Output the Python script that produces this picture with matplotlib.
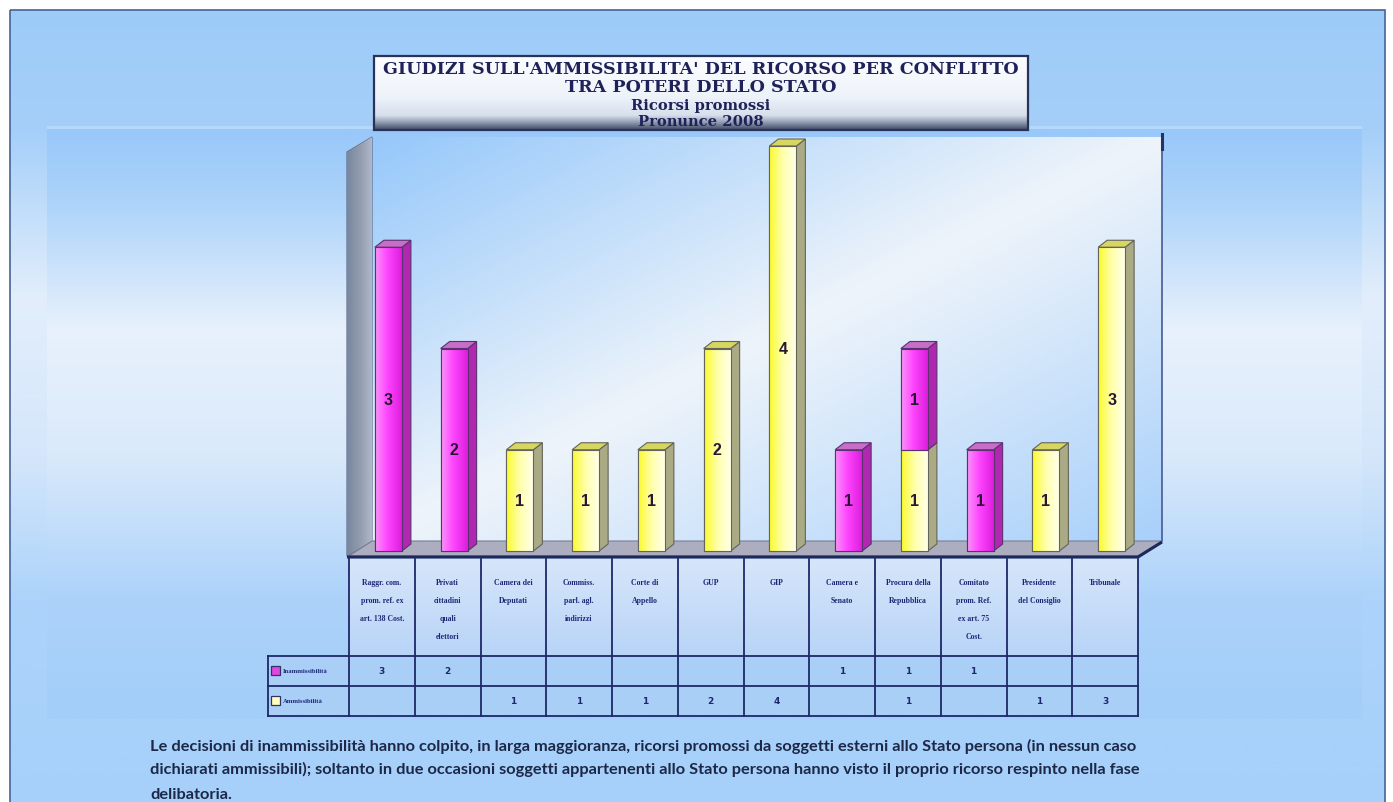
import numpy as np
import matplotlib
matplotlib.use("Agg")
import matplotlib.pyplot as plt
from matplotlib.patches import Rectangle, Polygon

# ---------------- data ----------------
categories = [
    "Raggr. com.\nprom. ref. ex\nart. 138 Cost.",
    "Privati\ncittadini\nquali\nelettori",
    "Camera dei\nDeputati",
    "Commiss.\nparl. agl.\nindirizzi",
    "Corte di\nAppello",
    "GUP",
    "GIP",
    "Camera e\nSenato",
    "Procura della\nRepubblica",
    "Comitato\nprom. Ref.\nex art. 75\nCost.",
    "Presidente\ndel Consiglio",
    "Tribunale",
]
inammissibilita = [3, 2, 0, 0, 0, 0, 0, 1, 1, 1, 0, 0]
ammissibilita = [0, 0, 1, 1, 1, 2, 4, 0, 1, 0, 1, 3]
series_names = ["Inammissibilità", "Ammissibilità"]

title_lines = [
    "GIUDIZI SULL'AMMISSIBILITA' DEL RICORSO PER CONFLITTO",
    "TRA POTERI DELLO STATO",
    "Ricorsi promossi",
    "Pronunce 2008",
]
caption_lines = [
    "Le decisioni di inammissibilità hanno colpito, in larga maggioranza, ricorsi promossi da soggetti esterni allo Stato persona (in nessun caso",
    "dichiarati ammissibili); soltanto in due occasioni soggetti appartenenti allo Stato persona hanno visto il proprio ricorso respinto nella fase",
    "delibatoria.",
]

# ---------------- figure ----------------
W, H = 1393, 803
fig = plt.figure(figsize=(W / 100, H / 100), dpi=100)
fig.patch.set_facecolor("white")

bg = fig.add_axes([0, 0, 1, 1])
bg.set_xlim(0, W)
bg.set_ylim(H, 0)
bg.axis("off")


def c(r, g, b):
    return (r / 255, g / 255, b / 255)


def ramp(stops, n=256):
    pos = np.array([s[0] for s in stops])
    cols = np.array([s[1] for s in stops], dtype=float) / 255.0
    t = np.linspace(0, 1, n)
    return np.stack([np.interp(t, pos, cols[:, k]) for k in range(3)], axis=-1)


def vgrad(ax, x0, x1, y0, y1, stops, z, clip=None):
    arr = ramp(stops)[:, None, :]
    im = ax.imshow(arr, extent=(x0, x1, y1, y0), origin="upper", aspect="auto",
                   interpolation="bilinear", zorder=z)
    if clip is not None:
        im.set_clip_path(clip)
    return im


# outer frame
vgrad(bg, 10, 1385, 11, 810, [
    (0.0, (157, 203, 248)), (0.15, (165, 207, 249)), (0.36, (226, 238, 251)),
    (0.55, (214, 231, 251)), (0.74, (172, 211, 250)), (1.0, (166, 208, 250))], z=0)
bg.add_patch(Rectangle((10, 11), 1375, 800, fill=False, ec=c(70, 100, 150), lw=1.2, zorder=1))

# chart area
bg.add_patch(Rectangle((47, 127), 1315, 3, fc=c(182, 216, 250), ec="none", zorder=1))
vgrad(bg, 47, 1362, 130, 720, [
    (0.0, (152, 200, 249)), (0.12, (172, 211, 250)), (0.34, (232, 241, 252)),
    (0.55, (218, 234, 251)), (0.8, (172, 210, 250)), (1.0, (162, 206, 249))], z=1)

# back wall with diagonal gradient
wx0, wx1, wy0, wy1 = 372, 1162, 138, 542
gx, gy = np.meshgrid(np.linspace(0, 1, 200), np.linspace(0, 1, 120))
u = (gx + gy) / 2
blue1 = np.array(c(150, 200, 250))
white = np.array(c(238, 244, 251))
blue2 = np.array(c(168, 208, 250))
w1 = np.clip(u / 0.5, 0, 1)[..., None]
w2 = np.clip((u - 0.5) / 0.5, 0, 1)[..., None]
wall = np.where(u[..., None] <= 0.5, blue1 * (1 - w1) + white * w1, white * (1 - w2) + blue2 * w2)
bg.imshow(wall, extent=(wx0, wx1, wy1, wy0), origin="upper", aspect="auto",
          interpolation="bilinear", zorder=2)
bg.plot([wx1, wx1], [135, wy1], color=c(70, 90, 150), lw=1.2, zorder=3)
bg.plot([wx1, wx1], [135, 150], color=c(40, 50, 100), lw=2.2, zorder=3)

# left side wall
side = Polygon([(347, 557), (372, 542), (372, 138), (347, 153)], closed=True,
               fc=c(140, 152, 170), ec=c(90, 100, 130), lw=0.8, zorder=3)
bg.add_patch(side)
vgrad_left = ramp([(0, (120, 135, 160)), (0.6, (150, 160, 175)), (1, (175, 185, 205))])[None, :, :]
imw = bg.imshow(vgrad_left, extent=(347, 372, 557, 138), origin="upper", aspect="auto",
                interpolation="bilinear", zorder=3)
imw.set_clip_path(side)

# floor
floor = Polygon([(349, 557), (1138, 557), (1162, 542), (372, 542)], closed=True,
                fc=c(172, 174, 192), ec=c(120, 125, 150), lw=0.8, zorder=3)
bg.add_patch(floor)
bg.plot([347, 1138, 1162], [558, 558, 543], color=c(30, 40, 90), lw=2.2, zorder=4,
        solid_capstyle="butt")

# title box
bg.add_patch(Rectangle((374, 57), 654, 74, fc="white", ec="none", zorder=5))
vgrad(bg, 374, 1028, 57, 131, [
    (0.0, (252, 253, 255)), (0.55, (238, 243, 250)), (0.8, (215, 224, 236)),
    (0.88, (160, 170, 190)), (1.0, (60, 72, 100))], z=5)
bg.add_patch(Rectangle((374, 57), 654, 74, fill=False, ec=c(40, 50, 90), lw=1.6, zorder=6))
navy = c(30, 34, 88)
bg.text(701, 70, title_lines[0], ha="center", va="center", fontsize=12.6,
        family="DejaVu Serif", fontweight="bold", color=navy, zorder=7)
bg.text(701, 88, title_lines[1], ha="center", va="center", fontsize=12.6,
        family="DejaVu Serif", fontweight="bold", color=navy, zorder=7)
bg.text(701, 106, title_lines[2], ha="center", va="center", fontsize=10.6,
        family="DejaVu Serif", fontweight="bold", color=navy, zorder=7)
bg.text(701, 122, title_lines[3], ha="center", va="center", fontsize=10.6,
        family="DejaVu Serif", fontweight="bold", color=navy, zorder=7)

# ---------------- data table ----------------
n = len(categories)
col_x0, col_w = 349, 789 / n
hdr_top, r1, r2, r3 = 560, 657, 687, 717
leg_x0 = 268
vgrad(bg, col_x0, col_x0 + n * col_w, hdr_top, r1, [
    (0.0, (214, 230, 250)), (1.0, (184, 212, 247))], z=4)
bg.add_patch(Rectangle((leg_x0, r1), col_x0 + n * col_w - leg_x0, r3 - r1,
                       fc=c(170, 207, 247), ec="none", zorder=4))
grid_col = c(30, 40, 105)
for i in range(n + 1):
    x = col_x0 + i * col_w
    bg.plot([x, x], [hdr_top, r3], color=grid_col, lw=1.3, zorder=6)
bg.plot([leg_x0, leg_x0], [r1, r3], color=grid_col, lw=1.3, zorder=6)
for y in (r1, r2, r3):
    bg.plot([leg_x0, col_x0 + n * col_w], [y, y], color=grid_col, lw=1.3, zorder=6)

for i, lab in enumerate(categories):
    bg.text(col_x0 + (i + 0.5) * col_w, 579, lab, ha="center", va="top", fontsize=5.6,
            family="Liberation Serif", fontweight="bold", color=c(30, 40, 120),
            linespacing=2.65, zorder=7)

mag_key = c(225, 70, 225)
yel_key = c(255, 255, 190)
for row_y0, vals, name, kc in ((r1, inammissibilita, series_names[0], mag_key),
                               (r2, ammissibilita, series_names[1], yel_key)):
    yc = (row_y0 + row_y0 + 30) / 2
    bg.add_patch(Rectangle((271, yc - 5), 9, 9, fc=kc, ec=c(50, 50, 100), lw=0.9, zorder=7))
    bg.text(283, yc, name, ha="left", va="center", fontsize=4.8, family="Liberation Serif",
            fontweight="bold", color=c(30, 40, 120), zorder=7)
    for i, v in enumerate(vals):
        if v:
            bg.text(col_x0 + (i + 0.5) * col_w, yc, str(v), ha="center", va="center",
                    fontsize=6.5, family="DejaVu Sans", fontweight="bold",
                    color=c(30, 40, 110), zorder=7)

# caption
for k, line in enumerate(caption_lines):
    bg.text(150, 746 + 23 * k + (3 if k == 2 else 0), line, ha="left", va="center",
            fontsize=11.8, family="Lato", fontweight="bold", color=c(28, 40, 70), zorder=7)

# ---------------- 3D-style bars ----------------
bx = fig.add_axes([349 / W, (H - 552) / H, 789 / W, 405 / H])
bx.patch.set_alpha(0)
bx.axis("off")

px_x = col_w          # pixels per category unit
px_y = 405 / 4        # pixels per value unit
dx = 9 / px_x
dy = 7 / px_y
bar_w = 27 / px_x
bar_off = 6.5 / px_x

styles = {
    "mag": dict(front=[(0, (248, 150, 248)), (0.45, (255, 70, 255)), (1, (220, 30, 220))],
                side=c(176, 40, 176), top=c(200, 110, 200), edge=c(90, 50, 110)),
    "yel": dict(front=[(0, (250, 250, 40)), (0.5, (255, 255, 170)), (1, (255, 255, 232))],
                side=c(170, 170, 132), top=c(214, 214, 96), edge=c(100, 100, 90)),
}


def draw_segment(xc, bottom, height, key, is_top, z):
    st = styles[key]
    rects = bx.bar([xc], [height], width=bar_w, bottom=[bottom], color=c(*st["front"][1][1]),
                   edgecolor=st["edge"], linewidth=0.8, zorder=z, clip_on=False)
    rect = rects[0]
    x0, x1 = xc - bar_w / 2, xc + bar_w / 2
    t = bottom + height
    im = bx.imshow(ramp(st["front"])[None, :, :], extent=(x0, x1, bottom, t), aspect="auto",
                   interpolation="bilinear", zorder=z + 0.1, clip_on=True)
    im.set_clip_path(rect)
    bx.add_patch(Rectangle((x0, bottom), bar_w, height, fill=False, ec=st["edge"], lw=0.8,
                           zorder=z + 0.2, clip_on=False))
    bx.add_patch(Polygon([(x1, bottom), (x1 + dx, bottom + dy), (x1 + dx, t + dy), (x1, t)],
                         closed=True, fc=st["side"], ec=st["edge"], lw=0.8, zorder=z,
                         clip_on=False))
    if is_top:
        bx.add_patch(Polygon([(x0, t), (x1, t), (x1 + dx, t + dy), (x0 + dx, t + dy)],
                             closed=True, fc=st["top"], ec=st["edge"], lw=0.8, zorder=z,
                             clip_on=False))
    bx.text(xc, bottom + height / 2, str(int(height)), ha="center", va="center",
            fontsize=11.5, family="Liberation Sans", fontweight="bold",
            color=c(40, 22, 50), zorder=z + 0.5, clip_on=False)


for i in range(n):
    xc = i + bar_off
    a, m = ammissibilita[i], inammissibilita[i]
    base = 0
    if a:
        draw_segment(xc, base, a, "yel", is_top=(m == 0), z=10)
        base += a
    if m:
        draw_segment(xc, base, m, "mag", is_top=True, z=10)

bx.set_xlim(-0.5, n - 0.5)
bx.set_ylim(0, 4)

fig.savefig("out.png", dpi=100, facecolor=fig.get_facecolor())
